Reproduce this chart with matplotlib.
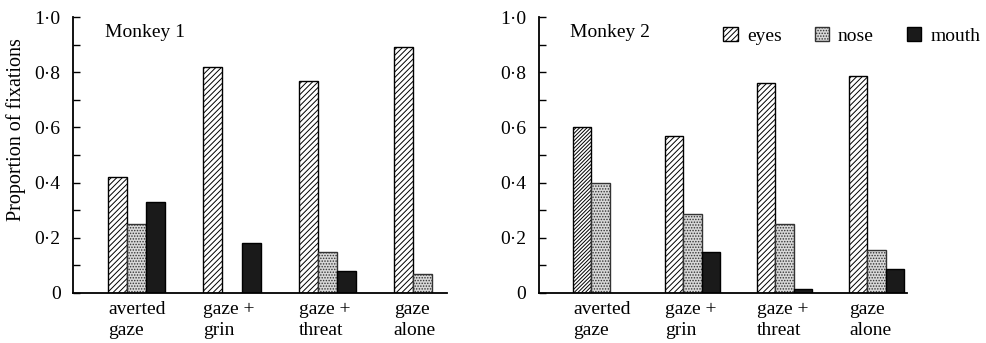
import numpy as np
import matplotlib
matplotlib.use("Agg")
import matplotlib.pyplot as plt
from matplotlib.patches import Patch

plt.rcParams["font.family"] = ["Liberation Serif", "DejaVu Serif"]
plt.rcParams["hatch.linewidth"] = 0.7

conditions = ["averted\ngaze", "gaze +\ngrin", "gaze +\nthreat", "gaze\nalone"]
series = ["eyes", "nose", "mouth"]

# proportion of fixations per condition
monkey1_eyes = [0.42, 0.82, 0.77, 0.89]
monkey1_nose = [0.25, 0.0, 0.15, 0.07]
monkey1_mouth = [0.33, 0.18, 0.08, 0.0]

monkey2_eyes = [0.60, 0.57, 0.76, 0.785]
monkey2_nose = [0.40, 0.285, 0.25, 0.155]
monkey2_mouth = [0.0, 0.15, 0.015, 0.085]

yticks = [0, 0.2, 0.4, 0.6, 0.8, 1.0]
ytick_labels = ["0", "0\u00b72", "0\u00b74", "0\u00b76", "0\u00b78", "1\u00b70"]

styles = {
    "eyes": dict(facecolor="white", edgecolor="black", hatch="//////"),
    "nose": dict(facecolor="#d8d8d8", edgecolor="#333333", hatch="......"),
    "mouth": dict(facecolor="#1a1a1a", edgecolor="black"),
}

fs = 14

fig = plt.figure(figsize=(9.87, 3.43), dpi=100)
ax1 = fig.add_axes([0.074, 0.146, 0.379, 0.804])
ax2 = fig.add_axes([0.546, 0.146, 0.373, 0.804])

width = 0.2
x = np.arange(len(conditions))

panels = [
    (ax1, "Monkey 1", [monkey1_eyes, monkey1_nose, monkey1_mouth], 3.26),
    (ax2, "Monkey 2", [monkey2_eyes, monkey2_nose, monkey2_mouth], 3.33),
]

bars = {}
for ax, title, vals, xmax in panels:
    for k, name in enumerate(series):
        v = np.array(vals[k])
        # skip zero bars so no outline is drawn
        mask = v > 0
        bars[(title, name)] = ax.bar(x[mask] + (k - 1) * width, v[mask], width,
                                     linewidth=1.0, **styles[name])
    ax.set_xlim(-0.67, xmax)
    ax.set_ylim(0, 1.0)
    ax.spines["top"].set_visible(False)
    ax.spines["right"].set_visible(False)
    ax.spines["left"].set_linewidth(1.3)
    ax.spines["bottom"].set_linewidth(1.3)
    ax.set_yticks(yticks, ytick_labels, fontsize=fs)
    ax.set_yticks(np.arange(0.1, 1.0, 0.2), minor=True)
    ax.tick_params(axis="y", which="both", direction="in", length=5, width=1.0, pad=9)
    ax.set_xticks(x - 1.5 * width, conditions, ha="left", fontsize=fs,
                  linespacing=1.3)
    ax.tick_params(axis="x", length=0, pad=6)
    ax.text(0.085, 0.945, title, transform=ax.transAxes, fontsize=fs, va="center")

# the first eyes bar of monkey 2 is printed with a denser hatch
bars[("Monkey 2", "eyes")][0].set_hatch("/////////")

ax1.set_ylabel("Proportion of fixations", fontsize=14.5)
ax1.yaxis.set_label_coords(-0.125, 0.593)

handles = [Patch(label=n, linewidth=1.0, **styles[n]) for n in series]
fig.legend(handles=handles, loc="center left", bbox_to_anchor=(0.733, 0.895),
           ncol=3, frameon=False, fontsize=fs, handlelength=0.75, handleheight=0.75,
           handletextpad=0.45, columnspacing=1.7, borderaxespad=0, borderpad=0)

fig.savefig("out.png", dpi=100)
